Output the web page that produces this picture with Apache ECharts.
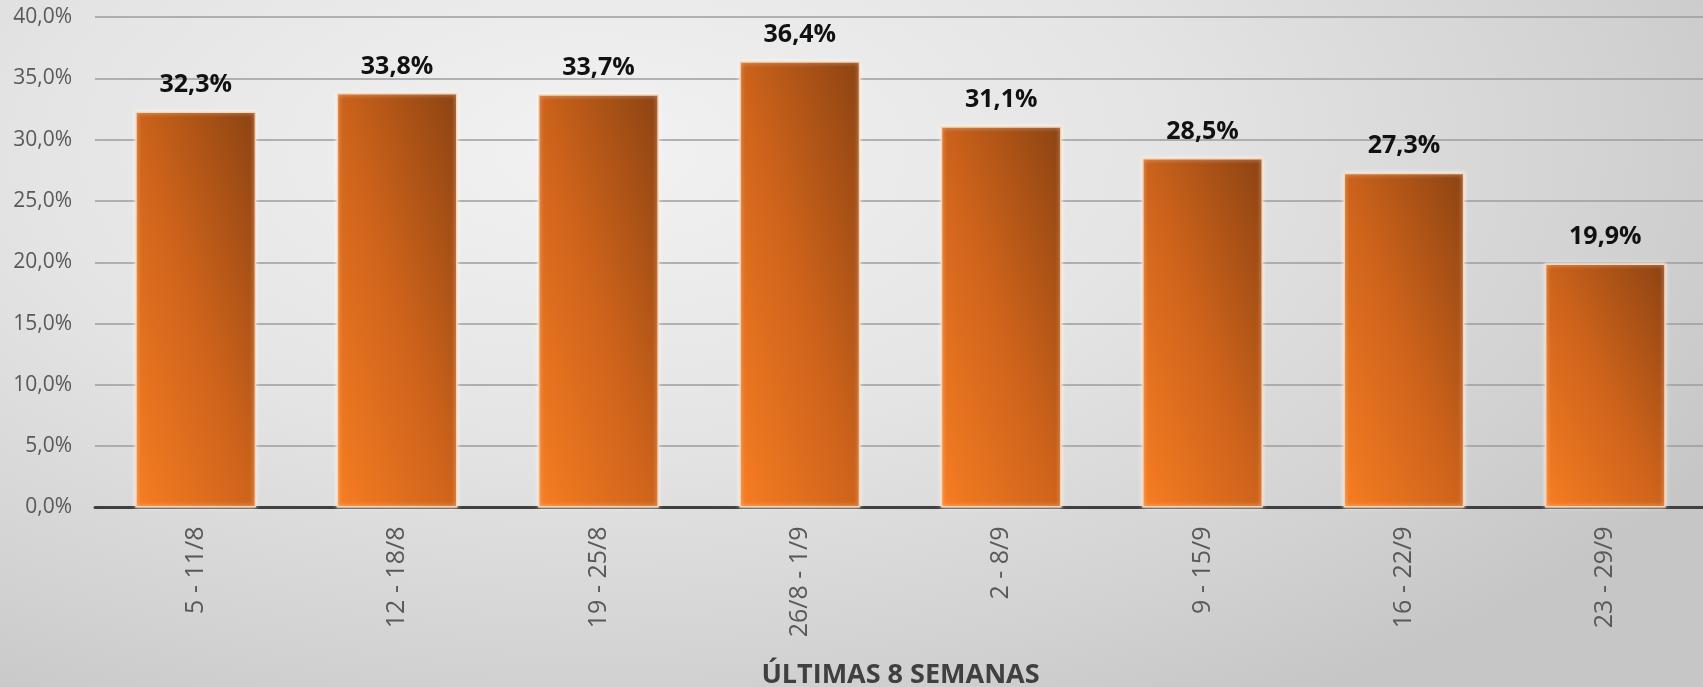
<!DOCTYPE html>
<html>
<head>
<meta charset="utf-8">
<script src="https://cdn.jsdelivr.net/npm/echarts@6/dist/echarts.min.js"></script>
<style>
html,body{margin:0;padding:0;width:1703px;height:687px;overflow:hidden;}
body{background:radial-gradient(ellipse 75% 95% at 35% 22%, #f2f2f2 0%, #e4e4e4 45%, #d2d2d2 80%, #c6c6c6 100%);}
#chart{width:1703px;height:687px;}
</style>
</head>
<body>
<div id="chart"></div>
<script>
const categories = ['5 - 11/8','12 - 18/8','19 - 25/8','26/8 - 1/9','2 - 8/9','9 - 15/9','16 - 22/9','23 - 29/9'];
const values = [32.3, 33.8, 33.7, 36.4, 31.1, 28.5, 27.3, 19.9];
const axisTitle = 'ÚLTIMAS 8 SEMANAS';
const yMin = 0, yMax = 40, yStep = 5;

const fmt = v => v.toFixed(1).replace('.', ',') + '%';
const font = '"Open Sans", "Noto Sans", sans-serif';

const gridTop = 17, gridBottom = 179.5, gridLeft = 95, gridWidth = 1611;
const plotH = 687 - gridTop - gridBottom;
const barW = gridWidth / categories.length * 0.6;

// gradient whose iso-lines run along the top-left -> bottom-right diagonal of each bar
function barGradient(v) {
  const h = (v - yMin) / (yMax - yMin) * plotH;
  const w = barW;
  const d = h * h + w * w;
  const ex = 2 * h * h / d;
  const ey = 1 - 2 * w * w / d;
  return new echarts.graphic.LinearGradient(0, 1, ex, ey, [
    {offset: 0, color: '#f77d22'},
    {offset: 0.5, color: '#cd631b'},
    {offset: 1, color: '#8c4312'}
  ]);
}

const chart = echarts.init(document.getElementById('chart'), null, {renderer:'canvas'});
chart.setOption({
  backgroundColor: 'transparent',
  animation: false,
  grid: {left: gridLeft, top: gridTop, width: gridWidth, bottom: gridBottom, containLabel: false, outerBoundsMode: 'none'},
  xAxis: {
    type: 'category',
    data: categories,
    axisLine: {lineStyle: {color: '#404040', width: 3}},
    axisTick: {show: false},
    axisLabel: {rotate: 90, margin: 19, color: '#595959', fontSize: 25, fontFamily: font},
    name: axisTitle,
    nameLocation: 'middle',
    nameGap: 154,
    nameTextStyle: {color: '#404040', fontSize: 27, fontWeight: 'bold', fontFamily: font}
  },
  yAxis: {
    type: 'value',
    min: yMin, max: yMax, interval: yStep,
    axisLine: {show: false},
    axisTick: {show: false},
    splitLine: {lineStyle: {color: '#9c9c9c', width: 1.5}},
    axisLabel: {margin: 23, color: '#595959', fontSize: 21, fontFamily: font, formatter: v => fmt(v)}
  },
  series: [{
    type: 'bar',
    data: values,
    barCategoryGap: '40%',
    itemStyle: {
      color: p => barGradient(p.value),
      borderColor: '#fcd6b4',
      borderWidth: 1.5,
      shadowColor: 'rgba(255,255,255,0.7)',
      shadowBlur: 4
    },
    label: {
      show: true, position: 'top', distance: 14,
      color: '#111111', fontSize: 25, fontWeight: 'bold', fontFamily: font,
      formatter: p => fmt(p.value)
    }
  }]
});
</script>
</body>
</html>
